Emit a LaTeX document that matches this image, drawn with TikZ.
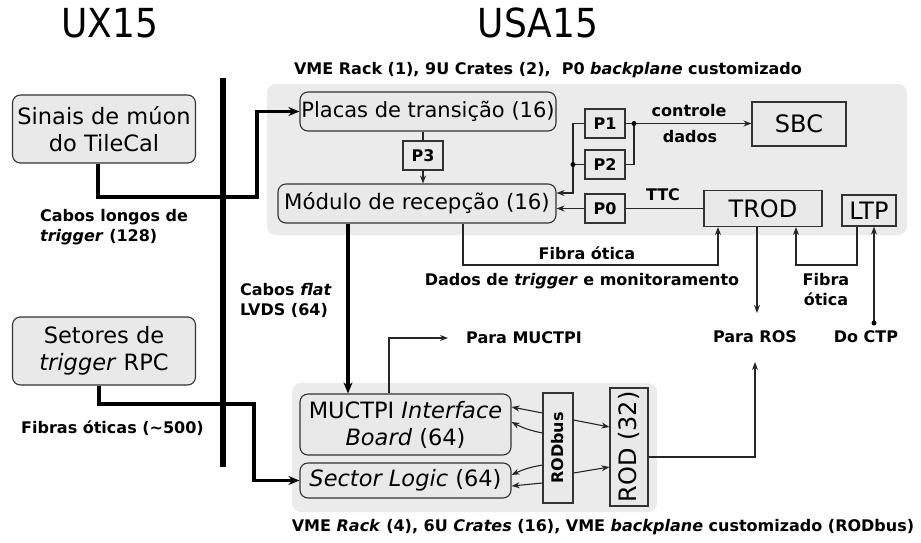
\documentclass[tikz,border=0pt]{standalone}
\usepackage{fontspec}
\usepackage{graphicx}
\setmainfont{DejaVu Sans}
\usetikzlibrary{arrows.meta,calc}
\definecolor{panelgray}{HTML}{EBEBEB}
\definecolor{boxgray}{HTML}{E9E9E9}
\definecolor{edge}{HTML}{333333}
\begin{document}
\begin{tikzpicture}[x=1pt,y=-1pt,
  panel/.style={fill=panelgray, rounded corners=9pt, inner sep=0pt},
  bigbox/.style={draw=edge, fill=boxgray, rounded corners=8pt, line width=1.1pt, align=center, inner sep=0pt, font=\fontsize{22.5}{27}\selectfont},
  sqbox/.style={draw=edge, fill=boxgray, line width=1.1pt, align=center, inner sep=0pt, font=\fontsize{24}{28}\selectfont},
  pbox/.style={draw=edge, fill=boxgray, line width=1.1pt, inner sep=0pt, minimum width=40pt, minimum height=29pt, font=\bfseries\fontsize{16}{18}\selectfont},
  lbl/.style={font=\bfseries\fontsize{16}{20}\selectfont, inner sep=0pt},
  title/.style={font=\fontsize{40}{44}\selectfont, inner sep=0pt},
  conn/.style={line width=1.1pt, draw=black!85, -{Stealth[length=8pt,width=6pt]}},
  plain/.style={line width=1.1pt, draw=black!85},
  thickconn/.style={line width=3.6pt, -{Stealth[length=11pt,width=9pt]}},
  dotmark/.style={circle, fill=black, inner sep=0pt, minimum size=5pt}
]
\useasboundingbox (0,0) rectangle (921,542);

% titles
\node[title] (ux) at (110,23) {\scalebox{0.9}[1]{UX15}};
\node[title] (usa) at (538,23) {\scalebox{0.9}[1]{USA15}};

% panels
\node[panel, minimum width=640pt, minimum height=151pt] (ptop) at (587,159.5) {};
\node[panel, minimum width=365pt, minimum height=129pt] (pbot) at (474.5,447.5) {};

\node[lbl] (toptitle) at (548,70) {VME Rack (1), 9U Crates (2),\ \ P0 \textit{backplane} customizado};
\node[lbl] (bottitle) at (603,527) {VME \textit{Rack} (4), 6U \textit{Crates} (16), VME \textit{backplane} customizado (RODbus)};

% vertical bar
\coordinate (bartop) at (222.5,78);
\coordinate (barbot) at (222.5,467);
\draw[line width=6pt] (bartop) -- (barbot);

% left boxes
\node[bigbox, minimum width=183pt, minimum height=68pt] (sinais) at (104,129) {Sinais de múon\\do TileCal};
\node[bigbox, minimum width=183pt, minimum height=68pt] (setores) at (104,351) {Setores de\\\textit{trigger} RPC};

% top crate
\node[bigbox, minimum width=256pt, minimum height=39pt, font=\fontsize{21}{25}\selectfont] (placas) at (428,111.5) {Placas de transição (16)};
\node[pbox] (p3) at (423,155.5) {P3};
\node[bigbox, minimum width=278pt, minimum height=39pt, font=\fontsize{21.3}{25}\selectfont] (modulo) at (417,203.5) {Módulo de recepção (16)};
\node[pbox] (p1) at (605,123.5) {P1};
\node[pbox] (p2) at (605,164.5) {P2};
\node[pbox] (p0) at (605,208.5) {P0};
\node[sqbox, minimum width=94pt, minimum height=44pt] (sbc) at (799,124) {SBC};
\node[sqbox, minimum width=118pt, minimum height=36pt] (trod) at (763,208.5) {TROD};
\node[sqbox, minimum width=54pt, minimum height=31pt] (ltp) at (869,210.5) {LTP};

% bottom crate
\node[bigbox, minimum width=211pt, minimum height=61pt] (muctpi) at (405.5,424.5) {MUCTPI \textit{Interface}\\\textit{Board} (64)};
\node[bigbox, minimum width=211pt, minimum height=35pt] (sector) at (405.5,480.5) {\textit{Sector Logic} (64)};
\node[pbox, minimum width=30pt, minimum height=110pt] (rodbus) at (558,448) {\rotatebox{90}{RODbus}};
\node[sqbox, minimum width=38pt, minimum height=118pt] (rod) at (629,447) {\rotatebox{90}{ROD (32)}};

% thick connectors
\coordinate (s1a) at (98,197);
\coordinate (s1b) at (257,197);
\draw[thickconn] (s1a |- sinais.south) -- (s1a) -- (s1b) |- (placas.west);
\coordinate (s2a) at (99,404);
\coordinate (s2b) at (254,404);
\draw[thickconn] (s2a |- setores.south) -- (s2a) -- (s2b) |- (sector.west);
\coordinate (flat) at (348,300);
\draw[thickconn] (flat |- modulo.south) -- (flat |- muctpi.north);

% P3
\draw[plain] (p3.north |- placas.south) -- (p3.north);
\draw[conn] (p3.south) -- (p3.south |- modulo.north);

% P1/P2/P0
\coordinate (d1) at (634,123.5);
\coordinate (d2) at (573,164.5);
\coordinate (mod1) at (556,193);
\draw[plain] (p1.east) -- (d1);
\draw[plain] (p2.east) -| (d1);
\draw[conn] (d1) -- (sbc.west |- d1);
\draw[plain] (p1.west) -| (d2);
\draw[plain] (p2.west) -- (d2);
\draw[conn] (d2) |- (mod1 -| modulo.east);
\node[dotmark] (dot1) at (d1) {};
\node[dotmark] (dot2) at (d2) {};
\draw[conn] (p0.west) -- (p0.west -| modulo.east);
\draw[plain] (trod.west) -- (p0.east);

\node[lbl] (lctrl) at (689,111) {controle};
\node[lbl] (ldados) at (690,137) {dados};
\node[lbl] (lttc) at (663,195) {TTC};

% fibra otica from modulo to TROD
\coordinate (fa) at (463,265);
\coordinate (fb) at (718,265);
\draw[conn] (fa |- modulo.south) -- (fa) -- (fb) -- (fb |- trod.south);
\node[lbl] (lfibra1) at (587,253) {Fibra ótica};
\node[lbl] (ldadostrig) at (582,281) {Dados de \textit{trigger} e monitoramento};

% TROD to ROS
\coordinate (ros) at (757,313);
\draw[conn] (ros |- trod.south) -- (ros);
\node[lbl] (lros) at (755,337) {Para ROS};

% LTP to TROD
\coordinate (la) at (857,265);
\coordinate (lb) at (796,265);
\draw[conn] (la |- ltp.south) -- (la) -- (lb) -- (lb |- trod.south);
\node[lbl, align=center] (lfibra2) at (826,290) {Fibra\\ótica};

% CTP
\coordinate (ctp) at (874,323);
\draw[conn] (ctp) -- (ctp |- ltp.south);
\node[dotmark] (dot3) at (ctp) {};
\node[lbl] (lctp) at (866,337) {Do CTP};

% left labels
\node[lbl, align=left, anchor=west] (lcabos) at (40,227) {Cabos longos de\\\textit{trigger} (128)};
\node[lbl, align=left, anchor=west] (lflat) at (240,300) {Cabos \textit{flat}\\LVDS (64)};
\node[lbl, anchor=west] (lfibras) at (21,428) {Fibras óticas (\textasciitilde500)};

% MUCTPI out
\coordinate (mu1) at (389,338);
\coordinate (mu2) at (448,338);
\draw[conn] (mu1 |- muctpi.north) -- (mu1) -- (mu2);
\node[lbl, anchor=west] (lmuctpi) at (466,338) {Para MUCTPI};

% ROD out
\coordinate (r1) at (755,457);
\coordinate (r2) at (755,362);
\draw[conn] (rod.east |- r1) -- (r1) -- (r2);

% RODbus arrows
\draw[conn] ($(rodbus.west)+(0,-35)$) -- ($(muctpi.east)+(0,-17.5)$);
\draw[conn] ($(rodbus.west)+(0,-15)$) to[bend left=8] ($(muctpi.east)+(0,-2.5)$);
\draw[conn] ($(rodbus.west)+(0,17)$) to[bend right=8] ($(sector.east)+(0,-5.5)$);
\draw[conn] ($(rodbus.west)+(0,35)$) -- ($(sector.east)+(0,5.5)$);
\draw[conn] ($(rodbus.east)+(0,-28)$) -- ($(rod.west)+(0,-20)$);
\draw[conn] ($(rodbus.east)+(0,25)$) -- ($(rod.west)+(0,20)$);
\end{tikzpicture}
\end{document}
